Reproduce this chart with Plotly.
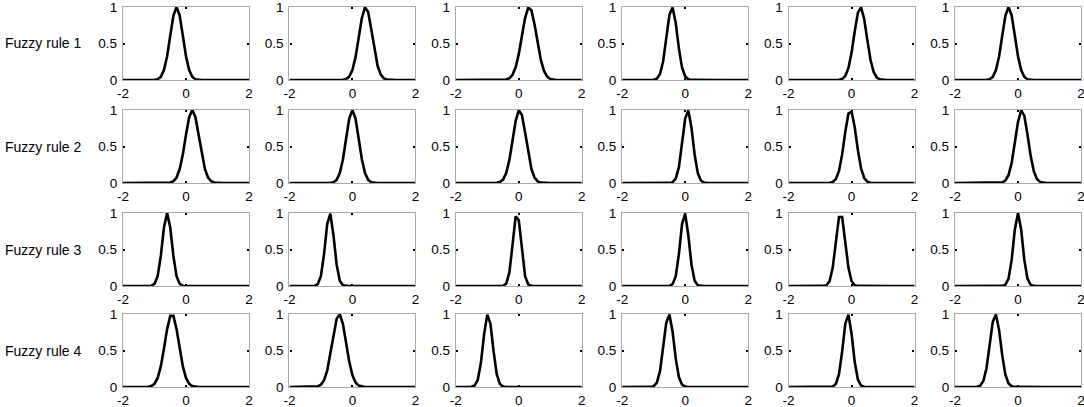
import numpy as np
import plotly.graph_objects as go

# Data: Gaussian membership functions per rule (row) and input (column)
rule_labels = ["Fuzzy rule 1", "Fuzzy rule 2", "Fuzzy rule 3", "Fuzzy rule 4"]
centers_rule1 = [-0.30, 0.42, 0.33, -0.42, 0.28, -0.30]
centers_rule2 = [0.20, 0.00, 0.02, 0.08, -0.04, 0.12]
centers_rule3 = [-0.60, -0.72, -0.06, -0.02, -0.35, 0.00]
centers_rule4 = [-0.45, -0.42, -0.98, -0.52, -0.12, -0.72]
sigmas_rule1 = [0.20, 0.21, 0.23, 0.17, 0.20, 0.20]
sigmas_rule2 = [0.22, 0.20, 0.21, 0.16, 0.19, 0.20]
sigmas_rule3 = [0.15, 0.14, 0.13, 0.14, 0.15, 0.14]
sigmas_rule4 = [0.22, 0.22, 0.15, 0.16, 0.15, 0.17]
x_ticks = [-2, 0, 2]
x_tick_text = ["-2", "0", "2"]
y_ticks = [0, 0.5, 1]
y_tick_text = ["0", "0.5", "1"]

centers = [centers_rule1, centers_rule2, centers_rule3, centers_rule4]
sigmas = [sigmas_rule1, sigmas_rule2, sigmas_rule3, sigmas_rule4]
x_grid = np.round(np.linspace(-2, 2, 41), 2)  # sampling grid of the membership functions

W, H = 1084, 407
col_left = [123, 289.4, 455.8, 622.2, 788.6, 955]
plot_w = 126
row_top = [7, 110, 213, 314]
plot_h = 73

fig = go.Figure()
layout = {}
tick_font = dict(family="Liberation Sans, Arial", size=13.5, color="black")
label_font = dict(family="Liberation Sans, Arial", size=14, color="black")
idx = 0
for r in range(4):
    for c in range(6):
        idx += 1
        xa = "x" if idx == 1 else f"x{idx}"
        ya = "y" if idx == 1 else f"y{idx}"
        y = np.exp(-((x_grid - centers[r][c]) ** 2) / (2 * sigmas[r][c] ** 2))
        fig.add_trace(go.Scatter(x=x_grid, y=y, mode="lines",
                                 line=dict(color="black", width=2.6),
                                 xaxis=xa, yaxis=ya, showlegend=False,
                                 hoverinfo="skip", cliponaxis=False))
        axis_common = dict(showgrid=False, zeroline=False, showline=True,
                           linecolor="#a8a8a8", linewidth=1.3, mirror="allticks",
                           ticks="inside", ticklen=2, tickwidth=1.5, tickcolor="black",
                           tickfont=tick_font, fixedrange=True, automargin=False,
                           ticklabeloverflow="allow")
        layout["xaxis" if idx == 1 else f"xaxis{idx}"] = dict(
            domain=[col_left[c] / W, (col_left[c] + plot_w) / W],
            range=[-2, 2], tickvals=x_ticks, ticktext=x_tick_text,
            anchor=ya, ticklabelstandoff=1, **axis_common)
        layout["yaxis" if idx == 1 else f"yaxis{idx}"] = dict(
            domain=[1 - (row_top[r] + plot_h) / H, 1 - row_top[r] / H],
            range=[0, 1], tickvals=y_ticks, ticktext=y_tick_text,
            anchor=xa, ticklabelstandoff=2, **axis_common)

annotations = []
for r in range(4):
    annotations.append(dict(text=rule_labels[r], xref="paper", yref="paper",
                            x=3 / W, y=1 - (row_top[r] + plot_h / 2) / H,
                            xanchor="left", yanchor="middle", showarrow=False,
                            font=label_font))

fig.update_layout(width=W, height=H, margin=dict(l=0, r=0, t=0, b=0),
                  paper_bgcolor="white", plot_bgcolor="white",
                  annotations=annotations, **layout)
fig.write_html("out.html", config={"displayModeBar": False},
               post_script="document.body.style.margin='0';document.body.style.overflow='hidden';")
